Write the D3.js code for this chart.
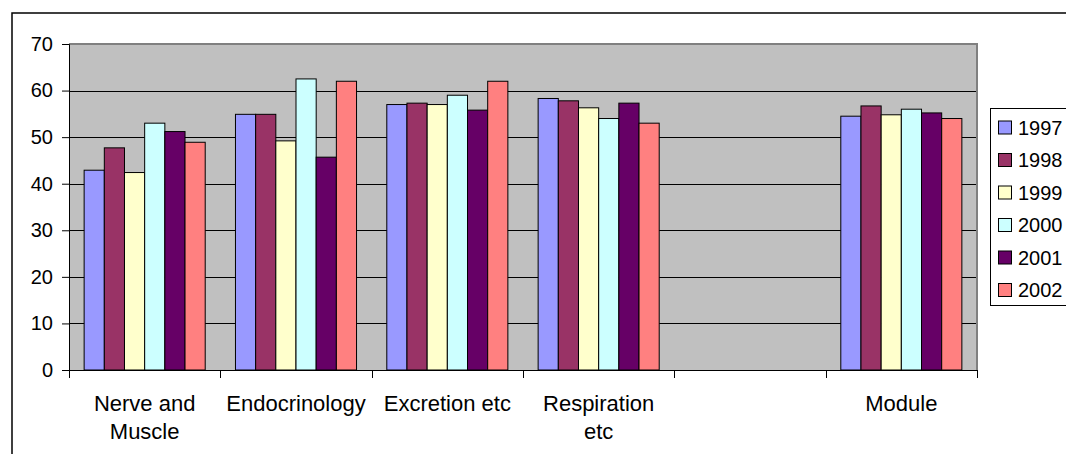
<!DOCTYPE html>
<html>
<head>
<meta charset="utf-8">
<script src="https://cdn.jsdelivr.net/npm/d3@7"></script>
<style>
  html, body { margin: 0; padding: 0; background: #ffffff; }
  svg { display: block; }
  text { font-family: "Liberation Sans", Arial, sans-serif; fill: #000; }
</style>
</head>
<body>
<svg id="chart" width="1066" height="454"></svg>
<script>
// ---- data ----
const categories = ["Nerve and|Muscle", "Endocrinology", "Excretion etc", "Respiration|etc", " ", "Module"];
const years = ["1997", "1998", "1999", "2000", "2001", "2002"];
const v1997 = [42.9, 54.9, 57.0, 58.3, null, 54.5];
const v1998 = [47.7, 54.9, 57.3, 57.8, null, 56.7];
const v1999 = [42.4, 49.2, 57.0, 56.3, null, 54.8];
const v2000 = [53.0, 62.5, 59.0, 54.0, null, 56.0];
const v2001 = [51.2, 45.7, 55.8, 57.3, null, 55.2];
const v2002 = [48.9, 62.0, 62.0, 53.0, null, 54.0];
const seriesValues = [v1997, v1998, v1999, v2000, v2001, v2002];
const colors = ["#9999FF", "#993366", "#FFFFCC", "#CCFFFF", "#660066", "#FF8080"];
const yTicks = [0, 10, 20, 30, 40, 50, 60, 70];

// ---- layout ----
const svg = d3.select("#chart");
const plot = { left: 69, top: 44, right: 977, bottom: 370 };

// outer chart frame
svg.append("rect")
  .attr("x", 12).attr("y", 13)
  .attr("width", 1200).attr("height", 600)
  .attr("fill", "#fff").attr("stroke", "#000").attr("stroke-width", 1.5);

const x = d3.scaleBand().domain(categories).range([plot.left, plot.right]).paddingInner(0).paddingOuter(0);
const inner = d3.scaleBand().domain(years)
  .range([x.bandwidth() * 0.1, x.bandwidth() * 0.9]).paddingInner(0).paddingOuter(0);
const y = d3.scaleLinear().domain([0, 70]).range([plot.bottom, plot.top]);

// plot background
svg.append("rect")
  .attr("x", plot.left).attr("y", plot.top)
  .attr("width", plot.right - plot.left).attr("height", plot.bottom - plot.top)
  .attr("fill", "#C0C0C0");

// gridlines
svg.append("g").selectAll("line")
  .data(yTicks.filter(d => d > 0 && d < 70))
  .join("line")
  .attr("x1", plot.left).attr("x2", plot.right)
  .attr("y1", d => Math.round(y(d)) + 0.5).attr("y2", d => Math.round(y(d)) + 0.5)
  .attr("stroke", "#000").attr("stroke-width", 1);

// plot border top/right (gray)
svg.append("path")
  .attr("d", `M${plot.left},${plot.top} H${plot.right} V${plot.bottom}`)
  .attr("fill", "none").attr("stroke", "#808080").attr("stroke-width", 2);

// bars
const groups = svg.append("g").selectAll("g")
  .data(years)
  .join("g")
  .attr("fill", (d, i) => colors[i]);

groups.each(function(yr, si) {
  d3.select(this).selectAll("rect")
    .data(categories.map((c, ci) => ({ c, v: seriesValues[si][ci] })).filter(d => d.v != null))
    .join("rect")
    .attr("x", d => x(d.c) + inner(yr))
    .attr("width", inner.bandwidth())
    .attr("y", d => y(d.v))
    .attr("height", d => y(0) - y(d.v))
    .attr("stroke", "#000").attr("stroke-width", 1);
});

// y axis
const yAxis = d3.axisLeft(y).tickValues(yTicks).tickSize(7).tickPadding(9);
const yg = svg.append("g").attr("transform", `translate(${plot.left},0)`).call(yAxis);
yg.select(".domain").attr("stroke", "#000");
yg.selectAll(".tick line").attr("stroke", "#000");
yg.selectAll(".tick text").style("font-size", "20px").style("font-family", "'Liberation Sans', Arial, sans-serif").attr("fill", "#000");

// x axis line + boundary ticks
svg.append("line")
  .attr("x1", plot.left).attr("x2", plot.right)
  .attr("y1", plot.bottom + 0.5).attr("y2", plot.bottom + 0.5)
  .attr("stroke", "#000");
const bounds = categories.map(c => x(c)).concat([x.range()[1]]);
svg.append("g").selectAll("line")
  .data(bounds)
  .join("line")
  .attr("x1", d => Math.round(d) + 0.5).attr("x2", d => Math.round(d) + 0.5)
  .attr("y1", plot.bottom).attr("y2", plot.bottom + 8)
  .attr("stroke", "#000");

// category labels
const labels = svg.append("g").selectAll("text")
  .data(categories)
  .join("text")
  .attr("x", d => x(d) + x.bandwidth() / 2)
  .attr("y", 411)
  .attr("text-anchor", "middle")
  .style("font-size", "22px");
labels.each(function(d) {
  const parts = d.split("|");
  d3.select(this).selectAll("tspan")
    .data(parts)
    .join("tspan")
    .attr("x", x(d) + x.bandwidth() / 2)
    .attr("dy", (p, i) => i === 0 ? 0 : 28)
    .text(p => p.trim());
});

// legend
const legend = svg.append("g");
legend.append("rect")
  .attr("x", 990.5).attr("y", 108.5)
  .attr("width", 200).attr("height", 197)
  .attr("fill", "#fff").attr("stroke", "#000").attr("stroke-width", 1);
const items = legend.selectAll("g")
  .data(years)
  .join("g")
  .attr("transform", (d, i) => `translate(0,${127.5 + i * 32.5})`);
items.append("rect")
  .attr("x", 998.5).attr("y", -6.5)
  .attr("width", 13).attr("height", 13)
  .attr("fill", (d, i) => colors[i])
  .attr("stroke", "#000");
items.append("text")
  .attr("x", 1018).attr("y", 7)
  .style("font-size", "20px")
  .text(d => d);
</script>
</body>
</html>
